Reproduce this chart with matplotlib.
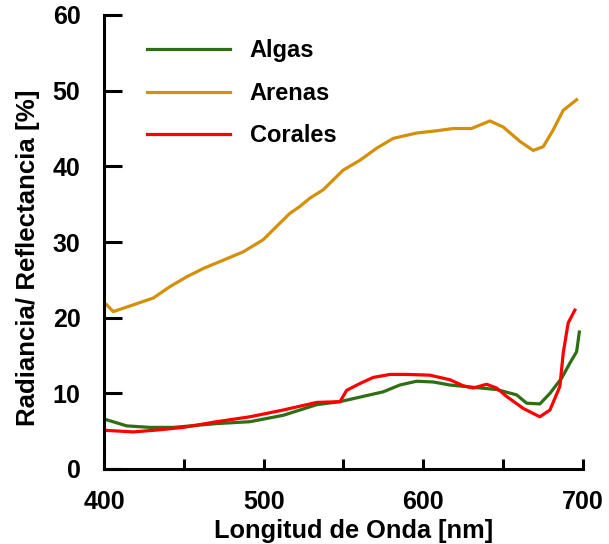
import matplotlib
matplotlib.use("Agg")
import matplotlib.pyplot as plt

plt.rcParams['font.family'] = ['Liberation Sans', 'DejaVu Sans']

# Data
arenas_x = [401.7, 405.8, 418.4, 430.9, 441.3, 451.8, 462.2, 474.7, 487.2, 499.7, 510.2, 516.5,
            522.7, 529.0, 537.3, 549.8, 560.3, 570.8, 581.2, 595.8, 608.3, 618.7, 630.2, 641.7,
            650.0, 660.5, 668.8, 675.1, 681.3, 687.6, 696.0]
arenas_y = [21.7, 20.8, 21.7, 22.6, 24.1, 25.4, 26.5, 27.6, 28.7, 30.3, 32.5, 33.8,
            34.7, 35.8, 36.9, 39.5, 40.8, 42.4, 43.7, 44.4, 44.7, 45.0, 45.0, 46.0,
            45.2, 43.3, 42.1, 42.6, 44.8, 47.4, 48.8]

algas_x = [401.7, 408.0, 414.2, 428.8, 443.4, 470.6, 491.4, 512.3, 533.2, 547.8, 560.3, 574.9,
           585.3, 595.8, 606.2, 616.6, 631.2, 645.9, 658.4, 664.7, 673.0, 679.3, 686.6, 691.8,
           696.0, 697.7]
algas_y = [6.5, 6.1, 5.7, 5.5, 5.5, 6.0, 6.25, 7.1, 8.5, 8.9, 9.5, 10.2,
           11.1, 11.6, 11.5, 11.1, 10.8, 10.5, 9.8, 8.7, 8.6, 10.0, 12.0, 14.0,
           15.5, 18.1]

corales_x = [401.7, 418.4, 433.0, 449.7, 470.6, 491.4, 512.3, 533.2, 547.8, 552.0, 560.3, 568.6,
             579.1, 589.5, 604.1, 616.6, 625.0, 631.2, 639.6, 645.9, 652.1, 662.6, 673.0, 679.3,
             685.5, 687.6, 690.7, 694.9]
corales_y = [5.1, 4.9, 5.15, 5.5, 6.25, 6.9, 7.8, 8.8, 8.9, 10.4, 11.3, 12.1,
             12.5, 12.5, 12.4, 11.8, 11.0, 10.7, 11.2, 10.7, 9.6, 8.0, 6.9, 7.8,
             10.9, 15.3, 19.3, 21.0]

series_names = ["Algas", "Arenas", "Corales"]
x_ticks = [400, 500, 600, 700]
y_ticks = [0, 10, 20, 30, 40, 50, 60]

fig = plt.figure(figsize=(6.09, 5.44), dpi=100)
ax = fig.add_axes([104/609, 1-469/544, (583-104)/609, (469-15)/544])

ax.plot(algas_x, algas_y, color="#2E6E14", lw=2.3, label=series_names[0])
ax.plot(arenas_x, arenas_y, color="#D4900A", lw=2.3, label=series_names[1])
ax.plot(corales_x, corales_y, color="#FF0000", lw=2.3, label=series_names[2])

ax.set_xlim(400, 700)
ax.set_ylim(0, 60)
ax.set_xticks(x_ticks)
ax.set_xticks([450, 550, 650], minor=True)
ax.set_yticks(y_ticks)

for s in ["top", "right"]:
    ax.spines[s].set_visible(False)
for s in ["left", "bottom"]:
    ax.spines[s].set_linewidth(2.2)

ax.tick_params(axis='y', direction='in', length=13, width=2.2, pad=17, labelsize=18)
ax.tick_params(axis='x', which='both', direction='in', length=7, width=2.2, pad=15, labelsize=18)
for lab in ax.get_xticklabels() + ax.get_yticklabels():
    lab.set_fontweight('bold')

ax.set_xlabel("Longitud de Onda [nm]", fontsize=18.3, fontweight='bold', va='center')
ax.xaxis.set_label_coords((354-104)/479, (469-531)/454)
ax.set_ylabel("Radiancia/ Reflectancia [%]", fontsize=18.6, fontweight='bold', va='center')
ax.yaxis.set_label_coords((27.5-104)/479, (469-258)/454)

leg = ax.legend(loc='upper left', bbox_to_anchor=(147/609, 1-39.5/544), bbox_transform=fig.transFigure,
                frameon=False, fontsize=17, handlelength=3.5, handletextpad=0.85, labelspacing=0.82,
                borderaxespad=0, borderpad=0)
for t in leg.get_texts():
    t.set_fontweight('bold')

fig.savefig("out.png", dpi=100)
